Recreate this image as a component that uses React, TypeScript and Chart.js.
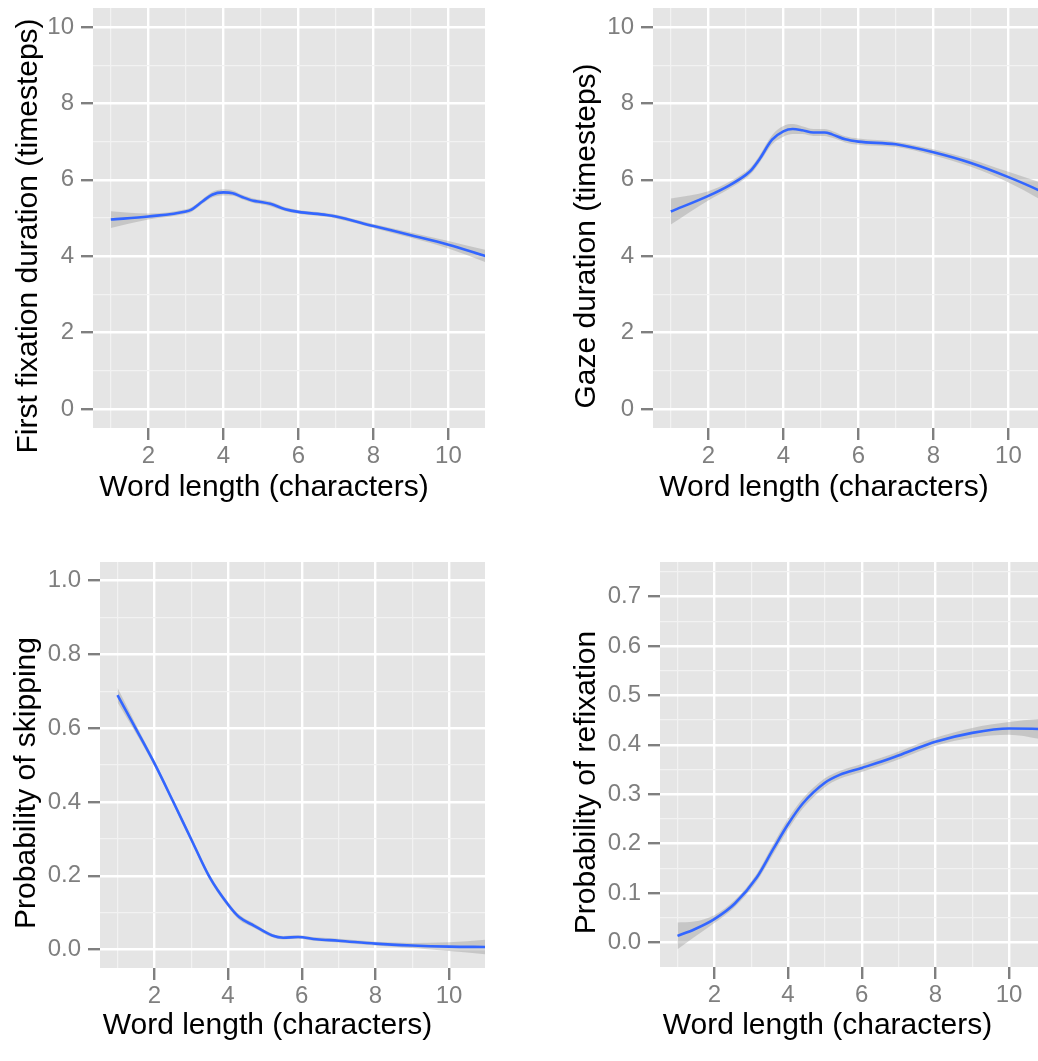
import { useEffect, useRef } from 'react';
import { Chart, registerables } from 'chart.js';

Chart.register(...registerables);

const FONT = 'Liberation Sans, Arial, Helvetica, sans-serif';
const X_TITLE = 'Word length (characters)';

// x axis breaks (shared)
const xMajor = [2, 4, 6, 8, 10];
const xMinor = [1, 3, 5, 7, 9, 11];

// first fixation duration
const ffdX = [1, 2, 3, 3.15, 3.45, 3.7, 4, 4.25, 4.5, 4.8, 5, 5.25, 5.65, 6, 6.75, 7, 8, 9, 10, 11];
const ffdFit = [4.96, 5.04, 5.17, 5.22, 5.44, 5.61, 5.67, 5.65, 5.55, 5.45, 5.42, 5.37, 5.23, 5.16, 5.08, 5.04, 4.79, 4.55, 4.3, 4.0];
const ffdSe = [0.22, 0.08, 0.06, 0.06, 0.06, 0.07, 0.08, 0.07, 0.06, 0.06, 0.06, 0.06, 0.05, 0.05, 0.05, 0.05, 0.05, 0.07, 0.1, 0.16];

// gaze duration
const gdX = [1, 2, 2.55, 3, 3.15, 3.35, 3.7, 4, 4.25, 4.5, 4.8, 5.1, 5.3, 5.65, 6, 7, 8, 9, 10, 10.8, 11];
const gdFit = [5.17, 5.58, 5.85, 6.13, 6.26, 6.52, 7.05, 7.27, 7.33, 7.3, 7.24, 7.24, 7.19, 7.06, 7.0, 6.93, 6.72, 6.44, 6.07, 5.73, 5.63];
const gdSe = [0.34, 0.12, 0.09, 0.09, 0.09, 0.1, 0.12, 0.14, 0.13, 0.1, 0.09, 0.09, 0.09, 0.08, 0.08, 0.07, 0.08, 0.1, 0.14, 0.22, 0.25];

// probability of skipping
const skX = [1, 1.5, 2, 2.5, 3, 3.5, 4, 4.3, 4.7, 5.2, 5.5, 5.9, 6.4, 7, 8, 9, 10, 11];
const skFit = [0.689, 0.598, 0.505, 0.403, 0.299, 0.196, 0.122, 0.088, 0.065, 0.038, 0.032, 0.034, 0.028, 0.024, 0.016, 0.011, 0.008, 0.007];
const skSe = [0.02, 0.012, 0.008, 0.007, 0.007, 0.007, 0.007, 0.007, 0.006, 0.005, 0.005, 0.005, 0.005, 0.005, 0.005, 0.007, 0.012, 0.02];

// probability of refixation
const rfX = [1, 1.45, 2, 2.55, 3.15, 3.6, 4, 4.4, 5, 5.4, 6, 6.85, 7.4, 8, 9, 10, 10.8, 11];
const rfFit = [0.013, 0.026, 0.047, 0.078, 0.131, 0.189, 0.239, 0.281, 0.323, 0.339, 0.353, 0.374, 0.39, 0.406, 0.424, 0.433, 0.432, 0.431];
const rfSe = [0.027, 0.016, 0.008, 0.007, 0.008, 0.01, 0.011, 0.01, 0.009, 0.008, 0.008, 0.008, 0.008, 0.008, 0.01, 0.013, 0.02, 0.022];

// y axis breaks
const durMajor = [0, 2, 4, 6, 8, 10];
const durMinor = [1, 3, 5, 7, 9];
const skMajor = [0, 0.2, 0.4, 0.6, 0.8, 1.0];
const skMinor = [0.1, 0.3, 0.5, 0.7, 0.9];
const rfMajor = [0, 0.1, 0.2, 0.3, 0.4, 0.5, 0.6, 0.7];
const rfMinor = [0.05, 0.15, 0.25, 0.35, 0.45, 0.55, 0.65, 0.75];

// ggplot does not centre the axis titles on the panel itself
const Y_TITLE_SHIFT = 18;
const X_TITLE_SHIFT = -25;

type Panel = {
    xs: number[]; fit: number[]; se: number[];
    yTitle: string; yMin: number; yMax: number;
    yMajor: number[]; yMinor: number[]; digits: number;
    box: [number, number, number, number];
    yWidth: number; xHeight: number; padTop: number; padRight: number;
    yTitlePad: number; xTitlePad: number;
};

const panels: Panel[] = [
    { xs: ffdX, fit: ffdFit, se: ffdSe, yTitle: 'First fixation duration (timesteps)', yMin: -0.5, yMax: 10.5, yMajor: durMajor, yMinor: durMinor, digits: 0,
      box: [0, 0, 520, 520], yWidth: 93, xHeight: 92, padTop: 8, padRight: 35, yTitlePad: 11, xTitlePad: 14 },
    { xs: gdX, fit: gdFit, se: gdSe, yTitle: 'Gaze duration (timesteps)', yMin: -0.5, yMax: 10.5, yMajor: durMajor, yMinor: durMinor, digits: 0,
      box: [520, 0, 525, 520], yWidth: 133, xHeight: 92, padTop: 8, padRight: 0, yTitlePad: 49, xTitlePad: 14 },
    { xs: skX, fit: skFit, se: skSe, yTitle: 'Probability of skipping', yMin: -0.05, yMax: 1.05, yMajor: skMajor, yMinor: skMinor, digits: 1,
      box: [0, 520, 520, 541], yWidth: 100, xHeight: 93, padTop: 42, padRight: 35, yTitlePad: 9, xTitlePad: 17 },
    { xs: rfX, fit: rfFit, se: rfSe, yTitle: 'Probability of refixation', yMin: -0.05, yMax: 0.77, yMajor: rfMajor, yMinor: rfMinor, digits: 1,
      box: [520, 520, 525, 541], yWidth: 140, xHeight: 94, padTop: 42, padRight: 0, yTitlePad: 49, xTitlePad: 17 },
];

function tickList(major: number[], minor: number[], min: number, max: number) {
    return [...major.map(v => ({ value: v, minor: false })), ...minor.map(v => ({ value: v, minor: true }))]
        .filter(t => t.value >= min - 1e-9 && t.value <= max + 1e-9)
        .sort((a, b) => a.value - b.value);
}

// fixed axis size, no extra room asked for the end labels
function fixSize(s: any, width: number | null, height: number | null) {
    if (width !== null) s.width = width;
    if (height !== null) s.height = height;
    s.paddingTop = 0;
    s.paddingBottom = 0;
    s.paddingLeft = 0;
    s.paddingRight = 0;
}

const gridOpts = {
    color: (c: any) => (c.tick && c.tick.minor ? '#F2F2F2' : '#FFFFFF'),
    lineWidth: (c: any) => (c.tick && c.tick.minor ? 1.2 : 2.4),
    tickColor: (c: any) => (c.tick && c.tick.minor ? 'rgba(0,0,0,0)' : '#7F7F7F'),
    tickWidth: 2.4,
    tickLength: 12,
};

// grey panel background
const panelBg = {
    id: 'panelBg',
    beforeDraw(chart: any) {
        const { ctx, chartArea: a } = chart;
        ctx.save();
        ctx.fillStyle = '#E5E5E5';
        ctx.fillRect(a.left, a.top, a.right - a.left, a.bottom - a.top);
        ctx.restore();
    },
};

// move the axis titles while scales draw, put things back before the data
const titleShift = {
    id: 'titleShift',
    beforeDraw(chart: any) {
        const { x, y } = chart.scales;
        y.top += Y_TITLE_SHIFT;
        y.bottom += Y_TITLE_SHIFT;
        x.left += X_TITLE_SHIFT;
        x.right += X_TITLE_SHIFT;
    },
    beforeDatasetsDraw(chart: any) {
        const { x, y } = chart.scales;
        y.top -= Y_TITLE_SHIFT;
        y.bottom -= Y_TITLE_SHIFT;
        x.left -= X_TITLE_SHIFT;
        x.right -= X_TITLE_SHIFT;
    },
};

function SmoothPanel({ p }: { p: Panel }) {
    const chartRef = useRef<HTMLCanvasElement>(null);

    useEffect(() => {
        if (!chartRef.current) return;
        const lower = p.xs.map((x, i) => ({ x, y: p.fit[i] - p.se[i] }));
        const upper = p.xs.map((x, i) => ({ x, y: p.fit[i] + p.se[i] }));
        const line = p.xs.map((x, i) => ({ x, y: p.fit[i] }));

        const chart = new Chart(chartRef.current, {
            type: 'line',
            data: {
                datasets: [
                    { data: line, borderColor: '#3366FF', borderWidth: 2.6, pointRadius: 0, fill: false, cubicInterpolationMode: 'monotone' },
                    { data: lower, borderWidth: 0, pointRadius: 0, fill: false, cubicInterpolationMode: 'monotone' },
                    { data: upper, borderWidth: 0, pointRadius: 0, fill: '-1', backgroundColor: 'rgba(153,153,153,0.4)', cubicInterpolationMode: 'monotone' },
                ],
            },
            options: {
                animation: false,
                responsive: true,
                maintainAspectRatio: false,
                events: [],
                layout: { autoPadding: false, padding: { top: p.padTop, right: p.padRight, left: 0, bottom: 0 } },
                plugins: { legend: { display: false }, tooltip: { enabled: false } },
                scales: {
                    x: {
                        type: 'linear',
                        min: 0.525,
                        max: 10.975,
                        afterBuildTicks: (s: any) => { s.ticks = tickList(xMajor, xMinor, s.min, s.max); },
                        afterFit: (s: any) => fixSize(s, null, p.xHeight),
                        grid: gridOpts as any,
                        border: { display: false },
                        ticks: {
                            autoSkip: false,
                            maxRotation: 0,
                            padding: 2,
                            color: '#7F7F7F',
                            font: { family: FONT, size: 24 },
                            callback: (v: any, i: number, ticks: any[]) => (ticks[i].minor ? '' : String(v)),
                        },
                        title: { display: true, text: X_TITLE, color: '#000000', font: { family: FONT, size: 30 }, padding: { top: 0, bottom: p.xTitlePad } },
                    },
                    y: {
                        type: 'linear',
                        min: p.yMin,
                        max: p.yMax,
                        afterBuildTicks: (s: any) => { s.ticks = tickList(p.yMajor, p.yMinor, s.min, s.max); },
                        afterFit: (s: any) => fixSize(s, p.yWidth, null),
                        grid: gridOpts as any,
                        border: { display: false },
                        ticks: {
                            autoSkip: false,
                            padding: 7,
                            color: '#7F7F7F',
                            font: { family: FONT, size: 24 },
                            callback: (v: any, i: number, ticks: any[]) => (ticks[i].minor ? '' : Number(v).toFixed(p.digits)),
                        },
                        title: { display: true, text: p.yTitle, color: '#000000', font: { family: FONT, size: 30 }, padding: { top: p.yTitlePad, bottom: 0 } },
                    },
                },
            },
            plugins: [panelBg, titleShift],
        } as any);

        return () => chart.destroy();
    }, [p]);

    return (
        <div style={{ position: 'absolute', left: p.box[0], top: p.box[1], width: p.box[2], height: p.box[3] }}>
            <canvas ref={chartRef}></canvas>
        </div>
    );
}

export default function App() {
    return (
        <div style={{ position: 'absolute', left: 0, top: 0, width: 1038, height: 1061, overflow: 'hidden', background: '#FFFFFF' }}>
            {panels.map((p, i) => <SmoothPanel key={i} p={p} />)}
        </div>
    );
}
